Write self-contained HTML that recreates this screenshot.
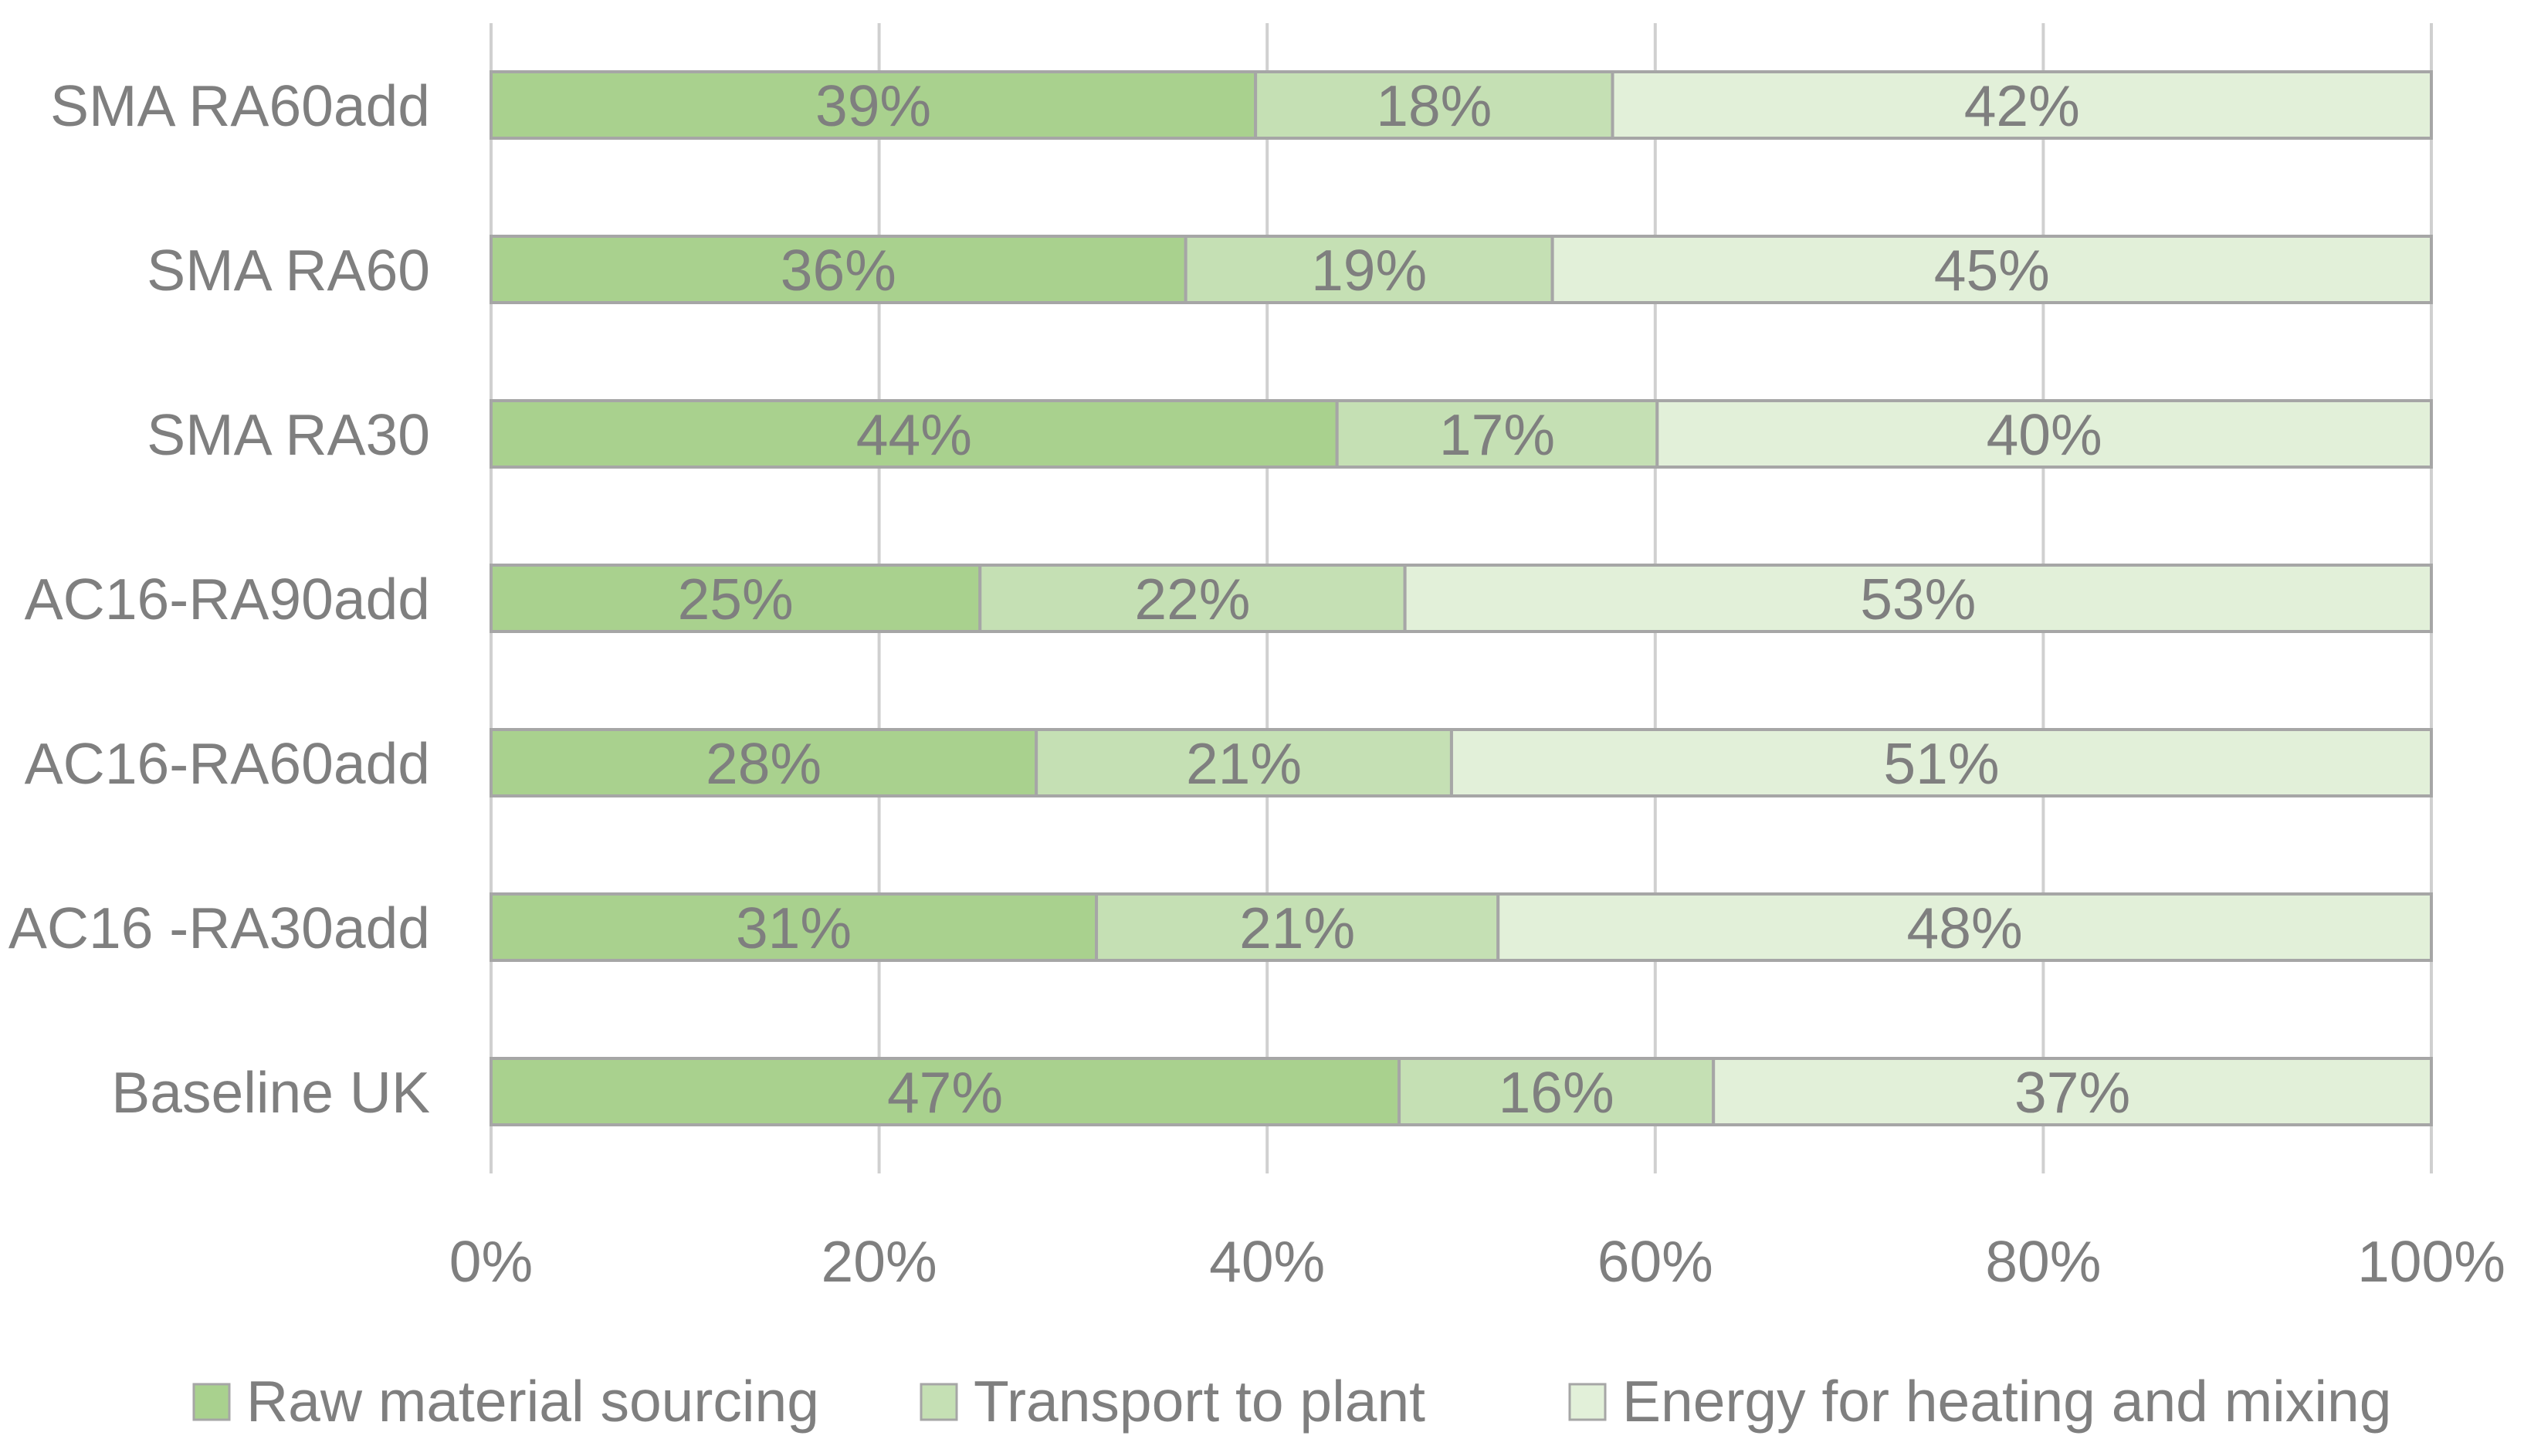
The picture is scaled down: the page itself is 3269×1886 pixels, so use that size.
<!DOCTYPE html>
<html><head><meta charset="utf-8"><style>
html,body{margin:0;padding:0;background:#fff;}
svg{display:block;}
text{font-family:"Liberation Sans",sans-serif;fill:#7f7f7f;}
</style></head><body>
<svg id="chart" width="3269" height="1886" viewBox="0 0 3269 1886" xmlns="http://www.w3.org/2000/svg">
<g id="grid"></g>
<g id="bars"></g>
<g id="ylabels"></g>
<g id="xlabels"></g>
<g id="legend"></g>
</svg>
<script>
const categories = ["SMA RA60add","SMA RA60","SMA RA30","AC16-RA90add","AC16-RA60add","AC16 -RA30add","Baseline UK"];
const rawMaterial = [39.4,35.8,43.6,25.2,28.1,31.2,46.8];
const transport = [18.4,18.9,16.5,21.9,21.4,20.7,16.2];
const energy = [42.2,45.3,39.9,52.9,50.5,48.1,37.0];
const rawLabels = ["39%","36%","44%","25%","28%","31%","47%"];
const transportLabels = ["18%","19%","17%","22%","21%","21%","16%"];
const energyLabels = ["42%","45%","40%","53%","51%","48%","37%"];
const xTicks = [0,20,40,60,80,100];
const xTickLabels = ["0%","20%","40%","60%","80%","100%"];
const seriesNames = ["Raw material sourcing","Transport to plant","Energy for heating and mixing"];

const NS="http://www.w3.org/2000/svg";
const X0=636, X1=3149, TOP0=93, STEP=213, BH=86;
function xs(v){return X0+(X1-X0)*v/100;}
function ys(i){return TOP0+i*STEP;}
function mk(tag,attrs,parent){const e=document.createElementNS(NS,tag);for(const k in attrs)e.setAttribute(k,attrs[k]);parent.appendChild(e);return e;}
const grid=document.getElementById('grid'),bars=document.getElementById('bars'),yl=document.getElementById('ylabels'),xl=document.getElementById('xlabels'),lg=document.getElementById('legend');
const colors=["#a9d18e","#c5e0b4","#e2f0d9"];
xTicks.forEach((t,i)=>{
  const l=mk('line',{x1:xs(t),x2:xs(t),y1:30,y2:1520,stroke:'#d0d0d0','stroke-width':4},grid);
  
  
  const tx=mk('text',{x:xs(t),y:1660,'font-size':75,'text-anchor':'middle'},xl);
  tx.textContent=xTickLabels[i];
  
  
});
const series=[rawMaterial,transport,energy], labs=[rawLabels,transportLabels,energyLabels];
categories.forEach((c,i)=>{
  let acc=0;
  const y=ys(i);
  series.forEach((s,k)=>{
    const v=s[i];
    const r=mk('rect',{x:xs(acc),y:y,width:xs(acc+v)-xs(acc),height:BH,fill:colors[k],stroke:'#a6a6a6','stroke-width':4},bars);
    
    
    const t=mk('text',{x:(xs(acc)+xs(acc+v))/2,y:y+BH/2+27,'font-size':75,'text-anchor':'middle'},bars);
    t.textContent=labs[k][i];
    
    
    acc+=v;
  });
  const t=mk('text',{x:557,y:y+BH/2+27,'font-size':75,'text-anchor':'end'},yl);
  t.textContent=c;
  
  
});
const legX=[251,1193,2033];
seriesNames.forEach((n,k)=>{
  const r=mk('rect',{x:legX[k],y:1793,width:46,height:46,fill:colors[k],stroke:'#a6a6a6','stroke-width':3},lg);
  
  
  const t=mk('text',{x:legX[k]+68,y:1841,'font-size':75},lg);
  t.textContent=n;
  
  
});
</script>
</body></html>
